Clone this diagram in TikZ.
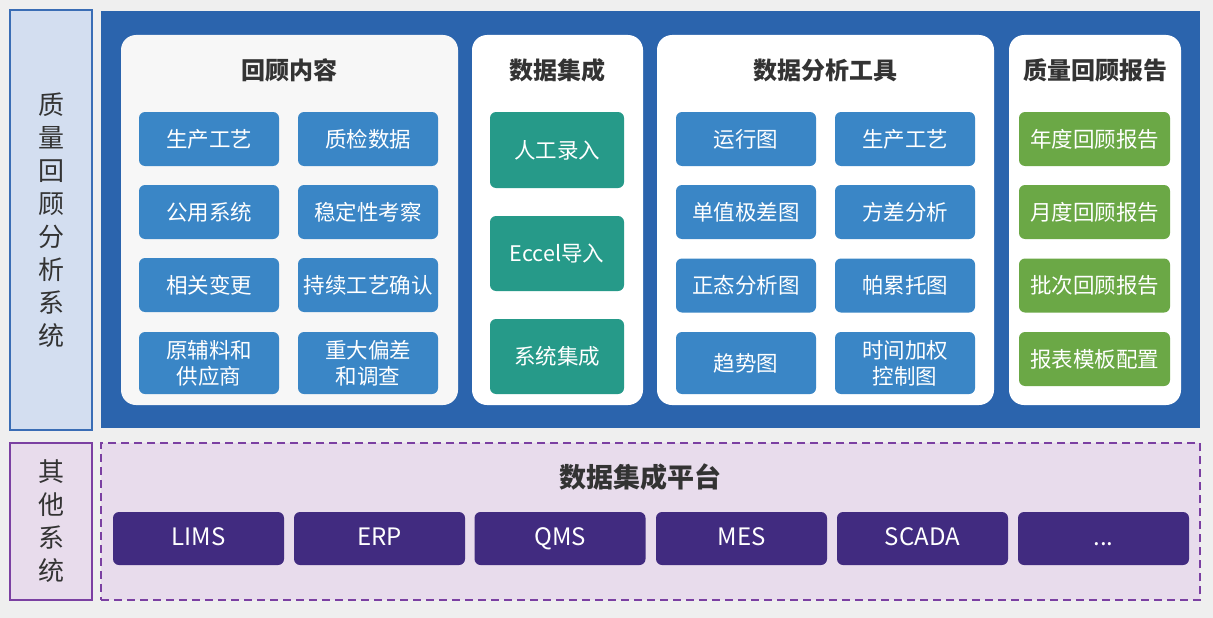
\documentclass[tikz,border=0pt]{standalone}
\usepackage{fontspec}
\setmainfont{Noto Sans CJK SC}
\usepackage{tikz}
\usetikzlibrary{positioning}
\definecolor{bggray}{HTML}{EFEFEF}
\definecolor{deepblue}{HTML}{2B64AD}
\definecolor{sidefill}{HTML}{D3DEF0}
\definecolor{sideline}{HTML}{3A6DB5}
\definecolor{tileblue}{HTML}{3A86C6}
\definecolor{tileteal}{HTML}{269A89}
\definecolor{tilegreen}{HTML}{6BA846}
\definecolor{tilepurple}{HTML}{412B80}
\definecolor{lilac}{HTML}{E8DCEC}
\definecolor{lilacline}{HTML}{7B40A2}
\definecolor{titlegray}{HTML}{333333}

\begin{document}
\begin{tikzpicture}[
  x=1pt,y=-1pt,
  panel/.style={fill=white,rounded corners=15pt,inner sep=0pt,minimum height=370pt},
  head/.style={text=titlegray,font=\fontsize{24}{27}\selectfont\bfseries},
  tile/.style={rounded corners=6pt,text=white,align=center,inner sep=0pt,
    font=\fontsize{21.5}{26}\selectfont,minimum width=140pt,minimum height=54pt},
  bluetile/.style={tile,fill=tileblue},
  tealtile/.style={tile,fill=tileteal,minimum width=134pt,minimum height=75pt},
  greentile/.style={tile,fill=tilegreen,minimum width=151pt},
  systile/.style={tile,fill=tilepurple,minimum width=171pt,minimum height=53pt,
    text height=18pt,text depth=5pt,font=\fontsize{24}{26}\selectfont},
  sidelabel/.style={align=center,text=titlegray,inner sep=0pt,
    font=\fontsize{26}{33}\selectfont}
]
  \useasboundingbox (0,0) rectangle (1213,618);
  \fill[bggray] (0,0) rectangle (1213,618);

  % upper part: the review system
  \node[draw=sideline,line width=1.5pt,fill=sidefill,minimum width=82pt,minimum height=420pt,inner sep=0pt]
    (sys) at (51,220) {};
  \node[sidelabel] (syslabel) at (sys.center) {质\\量\\回\\顾\\分\\析\\系\\统};
  \node[fill=deepblue,minimum width=1099pt,minimum height=417pt,inner sep=0pt] (board) at (650.5,219.5) {};

  \node[panel,fill=black!3!white,minimum width=337pt] (review) at (289.5,220) {};
  \node[panel,minimum width=171pt] (integ) at (557.5,220) {};
  \node[panel,minimum width=337pt] (tools) at (825.5,220) {};
  \node[panel,minimum width=172pt] (report) at (1095,220) {};

  \node[head] (reviewhead) at (289.5,70) {回顾内容};
  \node[head] (integhead) at (557.5,70) {数据集成};
  \node[head] (toolshead) at (825.5,70) {数据分析工具};
  \node[head] (reporthead) at (1095,70) {质量回顾报告};

  \node[bluetile] (r1) at (209,139) {生产工艺};
  \node[bluetile] (r2) at (368,139) {质检数据};
  \node[bluetile] (r3) at (209,212) {公用系统};
  \node[bluetile] (r4) at (368,212) {稳定性考察};
  \node[bluetile] (r5) at (209,285) {相关变更};
  \node[bluetile] (r6) at (368,285) {持续工艺确认};
  \node[bluetile,minimum height=62pt] (r7) at (209,363) {原辅料和\\供应商};
  \node[bluetile,minimum height=62pt] (r8) at (368,363) {重大偏差\\和调查};

  \node[tealtile,minimum height=76pt] (i1) at (557,150) {人工录入};
  \node[tealtile] (i2) at (557,253.5) {Eccel导入};
  \node[tealtile] (i3) at (557,356.5) {系统集成};

  \node[bluetile] (t1) at (746,139) {运行图};
  \node[bluetile] (t2) at (905,139) {生产工艺};
  \node[bluetile] (t3) at (746,212) {单值极差图};
  \node[bluetile] (t4) at (905,212) {方差分析};
  \node[bluetile] (t5) at (746,285.5) {正态分析图};
  \node[bluetile] (t6) at (905,285.5) {帕累托图};
  \node[bluetile,minimum height=62pt] (t7) at (746,363) {趋势图};
  \node[bluetile,minimum height=62pt] (t8) at (905,363) {时间加权\\控制图};

  \node[greentile] (p1) at (1094.5,139) {年度回顾报告};
  \node[greentile] (p2) at (1094.5,212) {月度回顾报告};
  \node[greentile] (p3) at (1094.5,285.5) {批次回顾报告};
  \node[greentile] (p4) at (1094.5,359) {报表模板配置};

  % lower part: other systems
  \node[draw=lilacline,line width=1.5pt,fill=lilac,minimum width=82pt,minimum height=157pt,inner sep=0pt]
    (other) at (51,521.5) {};
  \node[sidelabel] (otherlabel) at (other.center) {其\\他\\系\\统};
  \node[draw=lilacline,line width=1.8pt,dash pattern=on 8pt off 5pt,fill=lilac,
    minimum width=1099pt,minimum height=157pt,inner sep=0pt] (platform) at (650.5,521.5) {};
  \node[text=titlegray,font=\fontsize{27}{30}\selectfont\bfseries] (platformhead) at (640,477) {数据集成平台};

  \node[systile] (s1) at (198.5,538.5) {LIMS};
  \node[systile] (s2) at (379.5,538.5) {ERP};
  \node[systile] (s3) at (560,538.5) {QMS};
  \node[systile] (s4) at (741.5,538.5) {MES};
  \node[systile] (s5) at (922.5,538.5) {SCADA};
  \node[systile] (s6) at (1103.5,538.5) {...};
\end{tikzpicture}
\end{document}
